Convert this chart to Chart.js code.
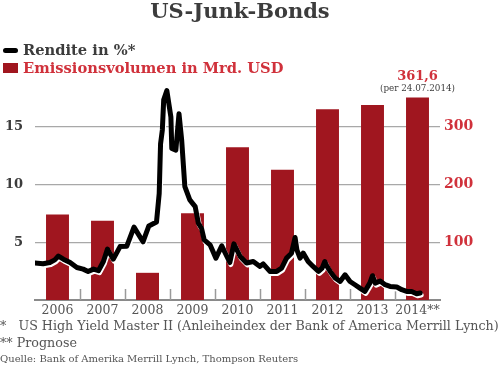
<!DOCTYPE html>
<html>
<head>
<meta charset="utf-8">
<script src="https://cdn.jsdelivr.net/npm/chart.js@4/dist/chart.umd.min.js"></script>
<style>
  html, body { margin: 0; padding: 0; background: #fff; }
  #wrap { position: relative; width: 500px; height: 365px; overflow: hidden; font-family: 'DejaVu Serif', serif; }
  #chart { position: absolute; left: 0; top: 0; }
  .txt { position: absolute; white-space: nowrap; }
  #title { left: 0; width: 480px; top: -2px; text-align: center; font-size: 21px; font-weight: bold; color: #3c3c3c; }
  .leg { left: 23px; font-size: 14.7px; font-weight: bold; }
  #leg1 { top: 41px; color: #3c3c3c; }
  #leg2 { top: 59px; color: #d0313b; }
  .sw-line { position: absolute; left: 3px; top: 48px; width: 15px; height: 5px; border-radius: 3px; background: #000; }
  .sw-box { position: absolute; left: 3px; top: 63px; width: 15px; height: 10px; background: #a0161f; }
  .foot { left: 0; color: #555; font-size: 12.7px; }
  #f1 { top: 318px; }
  #f2 { top: 335px; }
  #f3 { top: 353px; font-size: 10px; }
</style>
</head>
<body>
<div id="wrap">
  <canvas id="chart" width="500" height="365"></canvas>
  <div class="txt" id="title">US-Junk-Bonds</div>
  <div class="sw-line"></div>
  <div class="txt leg" id="leg1">Rendite in %*</div>
  <div class="sw-box"></div>
  <div class="txt leg" id="leg2">Emissionsvolumen in Mrd. USD</div>
  <div class="txt foot" id="f1">*&nbsp;&nbsp; US High Yield Master II (Anleiheindex der Bank of America Merrill Lynch)</div>
  <div class="txt foot" id="f2">** Prognose</div>
  <div class="txt foot" id="f3">Quelle: Bank of Amerika Merrill Lynch, Thompson Reuters</div>
</div>
<script>
// Jahre (Kategorien der Balken)
const years = ['2006', '2007', '2008', '2009', '2010', '2011', '2012', '2013', '2014**'];

// Emissionsvolumen in Mrd. USD
const volume = [148, 137, 47, 150, 264, 225, 330, 337, 350];

// Rendite in % (Zeitpunkte als Jahresbruchteil)
const yieldDates = [
  2006.00, 2006.18, 2006.33, 2006.44, 2006.52, 2006.63, 2006.78, 2006.93,
  2007.07, 2007.18, 2007.30, 2007.41, 2007.52, 2007.61, 2007.74, 2007.89,
  2008.04, 2008.20, 2008.40, 2008.53, 2008.70, 2008.76, 2008.79, 2008.83, 2008.86, 2008.93,
  2009.02, 2009.04, 2009.13, 2009.20, 2009.26, 2009.33, 2009.44, 2009.56, 2009.63, 2009.70, 2009.76, 2009.89,
  2010.02, 2010.15, 2010.33, 2010.42, 2010.56, 2010.70, 2010.85,
  2011.00, 2011.07, 2011.22, 2011.37, 2011.48, 2011.59, 2011.70, 2011.78, 2011.82, 2011.89, 2011.96,
  2012.07, 2012.18, 2012.30, 2012.38, 2012.44, 2012.49, 2012.56, 2012.67, 2012.78, 2012.89,
  2013.00, 2013.11, 2013.22, 2013.33, 2013.44, 2013.50, 2013.56, 2013.67, 2013.78, 2013.89,
  2014.04, 2014.15, 2014.26, 2014.37, 2014.48, 2014.56
];
const yieldValues = [
  3.19, 3.13, 3.24, 3.47, 3.80, 3.53, 3.24, 2.81,
  2.67, 2.47, 2.67, 2.53, 3.33, 4.40, 3.53, 4.62,
  4.65, 6.30, 5.03, 6.40, 6.75, 9.20, 13.5, 14.7, 17.3, 18.1,
  15.8, 13.1, 12.96, 16.1, 13.8, 9.8, 8.65, 8.07, 6.64, 6.2, 5.2, 4.77,
  3.62, 4.68, 3.24, 4.85, 3.76, 3.2, 3.33,
  2.9, 3.13, 2.47, 2.47, 2.76, 3.62, 4.05, 5.4, 4.34, 3.62, 4.05,
  3.33, 2.9, 2.47, 2.76, 3.33, 2.9, 2.47, 1.9, 1.6, 2.18,
  1.6, 1.32, 1.03, 0.74, 1.46, 2.1, 1.46, 1.65, 1.32, 1.17,
  1.12, 0.89, 0.74, 0.74, 0.54, 0.6
];

// Beschriftung über dem letzten Balken
const lastLabel = '361,6';
const lastNote = '(per 24.07.2014)';

const RED_BAR = '#a0161f';
const RED_TXT = '#d0313b';
const GREY = '#3c3c3c';

// Plugin: weisser Schatten unter der Renditelinie
const lineShadow = {
  id: 'lineShadow',
  beforeDatasetDraw(chart, args) {
    if (args.index !== 0) return;
    const ctx = chart.ctx;
    ctx.save();
    ctx.shadowColor = '#ffffff';
    ctx.shadowOffsetX = 1;
    ctx.shadowOffsetY = 2;
    ctx.shadowBlur = 0;
  },
  afterDatasetDraw(chart, args) {
    if (args.index !== 0) return;
    chart.ctx.restore();
  }
};

// Plugin: kleine Striche zwischen den Jahren + Wert über dem letzten Balken
const extras = {
  id: 'extras',
  beforeDatasetsDraw(chart) {
    const ctx = chart.ctx;
    const x2 = chart.scales.x2;
    const bottom = chart.chartArea.bottom;
    ctx.save();
    ctx.strokeStyle = '#9a9a9a';
    ctx.lineWidth = 1.5;
    for (let y = 2007; y <= 2014; y++) {
      const px = Math.round(x2.getPixelForValue(y)) + 0.5;
      ctx.beginPath();
      ctx.moveTo(px, bottom - 11);
      ctx.lineTo(px, bottom);
      ctx.stroke();
    }
    ctx.restore();
  },
  afterDatasetsDraw(chart) {
    const ctx = chart.ctx;
    const meta = chart.getDatasetMeta(1);
    const bar = meta.data[meta.data.length - 1];
    ctx.save();
    ctx.textAlign = 'center';
    ctx.textBaseline = 'middle';
    ctx.fillStyle = RED_TXT;
    ctx.font = 'bold 13px "DejaVu Serif"';
    ctx.fillText(lastLabel, bar.x, bar.y - 21);
    ctx.fillStyle = GREY;
    ctx.font = '8.8px "DejaVu Serif"';
    ctx.fillText(lastNote, bar.x, bar.y - 9);
    ctx.restore();
  }
};

new Chart(document.getElementById('chart'), {
  data: {
    labels: years,
    datasets: [
      {
        type: 'line',
        label: 'Rendite in %*',
        data: yieldDates.map((d, i) => ({ x: d, y: yieldValues[i] })),
        xAxisID: 'x2',
        yAxisID: 'y',
        borderColor: '#000',
        borderWidth: 5,
        borderJoinStyle: 'round',
        borderCapStyle: 'round',
        pointRadius: 0,
        tension: 0
      },
      {
        type: 'bar',
        label: 'Emissionsvolumen in Mrd. USD',
        data: volume,
        xAxisID: 'x',
        yAxisID: 'y1',
        backgroundColor: RED_BAR,
        grouped: false,
        categoryPercentage: 1,
        barPercentage: 0.51
      }
    ]
  },
  options: {
    responsive: false,
    animation: false,
    events: [],
    layout: { padding: { top: 86, left: 0, right: 0, bottom: 0 } },
    plugins: {
      legend: { display: false },
      tooltip: { enabled: false }
    },
    scales: {
      x: {
        type: 'category',
        offset: true,
        grid: { display: false, drawTicks: false },
        border: { color: '#8a8a8a', width: 2 },
        ticks: {
          color: '#555',
          padding: 3,
          autoSkip: false,
          font: { family: 'DejaVu Serif', size: 12.5 },
          maxRotation: 0
        },
        afterFit(scale) { scale.height = 65; }
      },
      x2: {
        type: 'linear',
        display: false,
        min: 2006,
        max: 2015
      },
      y: {
        position: 'left',
        min: 0,
        max: 18.5,
        grid: {
          color: c => (c.tick && c.tick.value > 0 && c.tick.value % 5 === 0 ? '#a8a8a8' : 'rgba(0,0,0,0)'),
          lineWidth: 1.2,
          drawTicks: false
        },
        border: { display: false },
        ticks: {
          stepSize: 5,
          padding: 12,
          color: GREY,
          font: { family: 'DejaVu Serif', size: 13, weight: 'bold' },
          callback: v => (v > 0 && v % 5 === 0 ? v : '')
        },
        afterFit(scale) { scale.width = 35; }
      },
      y1: {
        position: 'right',
        min: 0,
        max: 370,
        grid: { display: false, drawTicks: false },
        border: { display: false },
        ticks: {
          stepSize: 100,
          padding: 4,
          color: RED_TXT,
          font: { family: 'DejaVu Serif', size: 14, weight: 'bold' },
          callback: v => (v > 0 && v % 100 === 0 ? v : '')
        },
        afterFit(scale) { scale.width = 60; }
      }
    }
  },
  plugins: [lineShadow, extras]
});
</script>
</body>
</html>
